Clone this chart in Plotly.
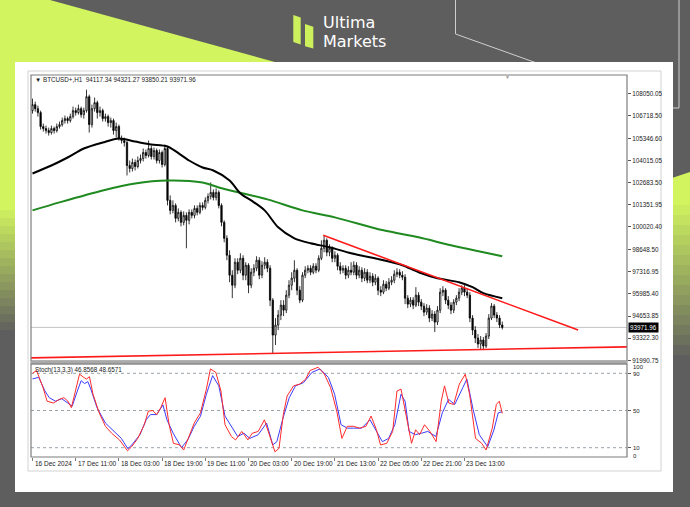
import plotly.graph_objects as go

# ---------------- DATA ----------------
bar_index = list(range(175))

open_ = [107026,107387,107146,106906,106065,105945,105825,105705,105945,105825,
         106065,106185,106426,106546,106426,106666,107026,106906,107146,106786,
         107026,107867,106185,107146,107507,106906,107026,106546,106666,106305,
         106426,105825,106065,105344,105224,105104,103722,103542,103903,103662,
         104023,104143,104503,104323,104744,104263,104624,104023,104503,103783,
         104744,101620,101019,101320,100539,100899,100298,100719,100419,100899,
         100719,101139,100899,101320,101199,101620,101860,102101,101800,102101,
         101320,100298,99337,98316,97115,96514,97896,97415,98136,97115,
         97716,96514,97295,97536,98016,97115,97716,97896,97536,95613,
         93510,94111,94712,95313,95012,95913,96514,96935,97415,96214,
         95613,97115,97415,97536,97295,97656,97415,98136,98737,99217,
         98496,98737,98136,98316,97656,97415,97536,97115,97415,97295,
         97716,97115,97415,96935,97295,96814,97055,96694,96935,96214,
         96094,96574,96334,96694,96814,97175,97295,97115,96995,95733,
         95373,95613,95313,95913,95493,95253,94892,95132,94532,94772,
         94291,95012,96094,96214,95613,95313,95012,95493,95733,96094,
         96334,96094,95913,94532,93811,93330,92970,93210,92850,93450,
         94532,95253,94712,94532,94117.34]

close = [107387,107146,106906,106065,105945,105825,105705,105945,105825,106065,
         106185,106426,106546,106426,106666,107026,106906,107146,106786,107026,
         107867,106185,107146,107507,106906,107026,106546,106666,106305,106426,
         105825,106065,105344,105224,105104,103722,103542,103903,103662,104023,
         104143,104503,104323,104744,104263,104624,104023,104503,103783,104744,
         101620,101019,101320,100539,100899,100298,100719,100419,100899,100719,
         101139,100899,101320,101199,101620,101860,102101,101800,102101,101320,
         100298,99337,98316,97115,96514,97896,97415,98136,97115,97716,
         96514,97295,97536,98016,97115,97716,97896,97536,95613,93510,
         94111,94712,95313,95012,95913,96514,96935,97415,96214,95613,
         97115,97415,97536,97295,97656,97415,98136,98737,99217,98496,
         98737,98136,98316,97656,97415,97536,97115,97415,97295,97716,
         97115,97415,96935,97295,96814,97055,96694,96935,96214,96094,
         96574,96334,96694,96814,97175,97295,97115,96995,95733,95373,
         95613,95313,95913,95493,95253,94892,95132,94532,94772,94291,
         95012,96094,96214,95613,95313,95012,95493,95733,96094,96334,
         96094,95913,94532,93811,93330,92970,93210,92850,93450,94532,
         95253,94712,94532,94117.34,93971.96]

high = [107747,107567,107327,107026,106245,106125,106005,106125,106065,106245,
        106366,106606,106726,106666,106846,107267,107207,107387,107267,107207,
        108288,107987,107387,107807,107627,107267,107146,106846,106786,106606,
        106546,106305,106185,105525,105404,105224,104023,104143,104083,104263,
        104383,104744,104684,105224,104924,104804,104744,104684,104624,104984,
        104864,101920,101620,101440,101139,101019,100959,100899,101079,101079,
        101320,101320,101500,101500,101800,102040,102701,102281,102341,102221,
        101440,100419,99518,98617,97415,98136,98136,98436,98316,97896,
        97836,97536,97776,98256,98196,97956,98196,98076,97716,95733,
        94532,95012,95613,95613,96214,96814,97295,98016,97536,96454,
        97295,97656,97716,97716,97836,97836,98316,99217,99518,99337,
        98977,98857,98556,98436,97896,97716,97716,97656,97896,97956,
        97896,97656,97595,97536,97475,97295,97235,97175,97055,96454,
        96814,96754,96935,97055,97415,97536,97475,97355,97175,95913,
        95793,95793,96394,96094,95673,95433,95373,95313,95012,94952,
        95253,96334,96454,96334,95853,95493,95673,95913,96334,96514,
        96514,96334,96094,94712,94051,93571,93450,93390,93631,94772,
        95433,95373,94892,94712,94321.27]

low = [106846,106966,106666,105885,105765,105645,105525,105585,105645,105705,
       105945,106065,106245,106245,106305,106546,106726,106786,106606,106546,
       106906,105705,106005,106966,106546,106666,106366,106366,106065,106005,
       105585,105404,105224,105044,104864,103122,103302,103362,103422,103542,
       103843,103963,104143,104203,104083,104083,103843,103843,103602,103662,
       101320,100779,100839,100298,100359,100058,100118,98737,100178,100539,
       100539,100719,100779,101019,101079,101440,101680,101620,101620,101139,
       100058,99097,98016,96694,95733,96334,97175,97235,96814,96814,
       96034,96334,97055,97355,96874,96935,97475,97295,95253,92429,
       92910,93811,94412,94652,94832,95733,96214,96694,95913,95433,
       95493,96935,97235,97115,97175,97235,97295,98016,98496,98256,
       98256,97896,97896,97415,97175,97235,96874,96935,97115,97115,
       96874,96935,96694,96754,96634,96634,96454,96514,95913,95853,
       95973,96154,96214,96514,96634,96995,96935,96814,95373,95132,
       95193,95072,95193,95253,95012,94652,94712,94291,94352,93691,
       94111,94832,95853,95373,95072,94772,94832,95313,95553,95913,
       95853,95733,94291,93510,93030,92730,92650,92670,92730,93270,
       94412,94532,94291,93931,93850.21]

ma_black_x = [0, 7, 13, 19, 26, 32, 38, 44, 50, 58, 63, 67, 73, 77, 81, 86, 91, 97,
              103, 110, 118, 130, 137, 143, 150, 158, 163, 167, 174]
ma_black = [103242, 103722, 104203, 104744, 105104, 105344, 105164, 104984, 104864,
            104023, 103602, 103422, 102821, 102040, 101620, 101019, 99998, 99337,
            99037, 98797, 98436, 98016, 97716, 97295, 96935, 96694, 96394, 96034, 95733]

ma_green_x = [0, 10, 26, 38, 50, 63, 69, 87, 100, 112, 130, 143, 155, 167, 174]
ma_green = [101019, 101500, 102221, 102641, 102821, 102701, 102401, 101680, 101019,
            100599, 99818, 99397, 98917, 98496, 98256]

trend_upper_x = [107.7, 202.1]
trend_upper = [99518, 93811]
trend_lower_x = [-0.6, 220.3]
trend_lower = [92140, 92802]

last_price = 93971.96

stoch_k_x = [0, 1.5, 3.9, 5.4, 7.7, 10, 11.6, 13.1, 14.4, 16.2, 17.4, 19, 20, 21.1, 22.4,
             24.7, 27, 29.3, 32.2, 35.2, 36.7, 39, 41.4, 42.9, 44.5, 46, 47.5, 49.1, 50.6,
             52.2, 54.5, 56, 58.3, 59.9, 62.2, 64.4, 65.9, 67.9, 69.8, 71.3, 73.7, 75.2,
             77.5, 79.8, 81.4, 83.6, 85.9, 87.5, 89.8, 91.3, 92.9, 94.3, 96.7, 99, 101.2,
             102.8, 105.8, 108.1, 110.4, 112.7, 114.6, 116.6, 118.9, 121.2, 123.5, 125.4,
             127.4, 128.9, 131.2, 133.4, 135, 136.5, 138.1, 140.4, 141.9, 143.4, 145.2,
             147.2, 149.5, 151.4, 152.6, 154.2, 156, 158.1, 160.3, 161.9, 164.1, 166.4,
             168, 170.3, 171.8, 172.9, 174]
stoch_k = [90, 93, 74.7, 60, 58, 62, 63.8, 60, 53, 74.7, 89, 85.6, 83.8, 86.4, 67.5,
           47.5, 33, 25.6, 18.4, 6.7, 11, 20, 34.7, 49.3, 50, 45.6, 53, 63.8, 34.7,
           14.7, 13, 7.5, 24, 36.5, 47.5, 73, 94.7, 91, 71, 34.7, 22, 18.4,
           27.5, 18.4, 25.6, 27.5, 40, 25.6, 5.6, 9.3, 45.6, 65.6, 76.5, 78.4, 83.8,
           93, 96.5, 89, 74.7, 49.3, 20, 33, 33, 31, 33, 44,
           29.3, 13, 14.7, 27.5, 71, 73, 47.5, 14.7, 29.3, 24, 34.7,
           27.5, 16.5, 60, 76.5, 58, 56.5, 78.4, 89, 67.5, 20, 14.7,
           7.5, 31, 56.5, 60, 46.8568]

stoch_d_x = [0, 2.3, 4.6, 6.2, 8.5, 10.8, 13.1, 14.7, 16.5, 18, 19.3, 20.5, 21.6, 23.9,
             27, 30.1, 32.9, 35.3, 36.8, 39.8, 42.1, 43.7, 46, 48.3, 49.8, 52.2, 55.2,
             57.6, 59.9, 62.2, 64.4, 66.7, 69, 71.3, 73.7, 76, 78.3, 80.5, 83.6, 86.7,
             89, 90.5, 92.8, 95.1, 97.4, 100.4, 103.5, 106.5, 109.6, 111.9, 114.3, 116.6,
             118.9, 121.9, 125, 127.3, 129.6, 131.9, 134.2, 136.5, 138, 139.5, 141.8,
             144.1, 146.4, 149.4, 151.8, 154.1, 156.4, 159.4, 160.9, 163.2, 165.5, 168.6,
             170.9, 172.5, 174]
stoch_d = [84, 85.6, 71, 63.8, 60, 62.7, 58, 54.7, 70, 82, 79, 81, 73, 53,
           36.5, 27.5, 20, 9, 13, 24, 40, 45.6, 45.6, 56, 40, 25, 10,
           19, 33, 43.8, 67.5, 87.5, 76.5, 44, 33, 22, 25.6, 20, 24, 36.5,
           13, 16.5, 42, 63.8, 76.5, 80, 91, 94.7, 85.6, 67.5, 34.7, 31,
           31, 31, 40, 27.5, 16.5, 20, 34.7, 67.5, 60, 27.5, 24,
           25.6, 27.5, 22, 47.5, 62, 56.5, 74.7, 83.8, 51, 24, 11,
           29, 47.5, 48.6571]

price_ticks = [108050.05, 106718.50, 105346.60, 104015.05, 102683.50, 101351.95,
               100020.40, 98648.50, 97316.95, 95985.40, 94653.85, 93322.30, 91990.75]
price_tick_text = ["108050.05", "106718.50", "105346.60", "104015.05", "102683.50",
                   "101351.95", "100020.40", "98648.50", "97316.95", "95985.40",
                   "94653.85", "93322.30", "91990.75"]

date_tick_bars = [0, 16, 32, 48, 64, 80, 96, 112, 128, 144, 160]
date_tick_text = ["16 Dec 2024", "17 Dec 11:00", "18 Dec 03:00", "18 Dec 19:00",
                  "19 Dec 11:00", "20 Dec 03:00", "20 Dec 19:00", "21 Dec 13:00",
                  "22 Dec 05:00", "22 Dec 21:00", "23 Dec 13:00"]

stoch_levels = [10, 50, 90]
stoch_label_vals = [96.3, 89.5, 50, 10, 1.5]
stoch_label_text = ["100", "90", "50", "10", "0"]

header_text = "\u25BC BTCUSD+,H1  94117.34 94321.27 93850.21 93971.96"
stoch_text = "Stoch(13,3,3) 46.8568 48.6571"

# ---------------- LAYOUT HELPERS ----------------
W, H = 690, 507
L, R, T, B = 31, 627, 74, 457
PW, PH = R - L, B - T


def px(x):
    return (x - L) / PW


def py(y):
    return (B - y) / PH


def path(points):
    s = "M" + " L".join(f"{px(x):.5f},{py(y):.5f}" for x, y in points)
    return s + " Z"


FONT = "Liberation Sans, Arial, sans-serif"
LIME = (210, 245, 95)
GRAY = (94, 94, 94)


def mix(t):
    c = [round(LIME[i] * (1 - t) + GRAY[i] * t) for i in range(3)]
    return f"rgb({c[0]},{c[1]},{c[2]})"


fig = go.Figure()

fig.add_trace(go.Candlestick(
    x=bar_index, open=open_, high=high, low=low, close=close,
    xaxis="x", yaxis="y",
    increasing=dict(line=dict(color="#000000", width=0.8), fillcolor="#ffffff"),
    decreasing=dict(line=dict(color="#000000", width=0.8), fillcolor="#000000"),
    whiskerwidth=0, showlegend=False, hoverinfo="skip"))

fig.add_trace(go.Scatter(x=ma_green_x, y=ma_green, mode="lines", xaxis="x", yaxis="y",
                         line=dict(color="#1f8a1f", width=2, shape="spline", smoothing=0.8),
                         showlegend=False, hoverinfo="skip"))
fig.add_trace(go.Scatter(x=ma_black_x, y=ma_black, mode="lines", xaxis="x", yaxis="y",
                         line=dict(color="#000000", width=2, shape="spline", smoothing=0.8),
                         showlegend=False, hoverinfo="skip"))
fig.add_trace(go.Scatter(x=trend_upper_x, y=trend_upper, mode="lines", xaxis="x", yaxis="y",
                         line=dict(color="#ff1a1a", width=1.6), showlegend=False, hoverinfo="skip"))
fig.add_trace(go.Scatter(x=trend_lower_x, y=trend_lower, mode="lines", xaxis="x", yaxis="y",
                         line=dict(color="#ff1a1a", width=1.6), showlegend=False, hoverinfo="skip"))

fig.add_trace(go.Scatter(x=stoch_d_x, y=stoch_d, mode="lines", xaxis="x", yaxis="y2",
                         line=dict(color="#3b3bff", width=1), showlegend=False, hoverinfo="skip"))
fig.add_trace(go.Scatter(x=stoch_k_x, y=stoch_k, mode="lines", xaxis="x", yaxis="y2",
                         line=dict(color="#ff2b2b", width=1), showlegend=False, hoverinfo="skip"))

shapes = []
# background lime triangle (top-left) and left gradient strip
shapes.append(dict(type="path", xref="paper", yref="paper", layer="below",
                   path=path([(0, 0), (50, 0), (340, 80), (340, 210), (0, 210)]),
                   fillcolor=mix(0), line=dict(width=0)))
n = 16
for i in range(n):
    y0 = 210 + i * 8
    shapes.append(dict(type="rect", xref="paper", yref="paper", layer="below",
                       x0=px(0), x1=px(16), y0=py(y0), y1=py(y0 + 8.5),
                       fillcolor=mix((i + 1) / n), line=dict(width=0)))
# right lime strip with gradient
shapes.append(dict(type="path", xref="paper", yref="paper", layer="below",
                   path=path([(672, 178), (690, 172), (690, 205), (672, 205)]),
                   fillcolor=mix(0), line=dict(width=0)))
for i in range(n):
    y0 = 205 + i * 10
    shapes.append(dict(type="rect", xref="paper", yref="paper", layer="below",
                       x0=px(672), x1=px(690), y0=py(y0), y1=py(y0 + 10.5),
                       fillcolor=mix((i + 1) / n), line=dict(width=0)))
# decorative thin lines
shapes.append(dict(type="path", xref="paper", yref="paper", layer="below",
                   path="M" + " L".join(f"{px(x):.5f},{py(y):.5f}" for x, y in [(455.5, -2), (455.5, 34), (545, 66)]),
                   line=dict(color="#cfcfcf", width=1)))
shapes.append(dict(type="path", xref="paper", yref="paper", layer="below",
                   path="M" + " L".join(f"{px(x):.5f},{py(y):.5f}" for x, y in [(679, -2), (679, 108), (670, 108)]),
                   line=dict(color="#cfcfcf", width=1)))
# white card
shapes.append(dict(type="rect", xref="paper", yref="paper", layer="below",
                   x0=px(15), x1=px(673), y0=py(492), y1=py(62),
                   fillcolor="#ffffff", line=dict(width=0)))
# MT4 outer frame
shapes.append(dict(type="rect", xref="paper", yref="paper", layer="below",
                   x0=px(28), x1=px(661), y0=py(471), y1=py(71),
                   fillcolor="rgba(0,0,0,0)", line=dict(color="#d2d2d2", width=1)))
# panel borders
shapes.append(dict(type="rect", xref="paper", yref="paper", layer="above",
                   x0=px(31), x1=px(627), y0=py(361), y1=py(75),
                   fillcolor="rgba(0,0,0,0)", line=dict(color="#7d7d7d", width=1.2)))
shapes.append(dict(type="rect", xref="paper", yref="paper", layer="above",
                   x0=px(30.5), x1=px(627.5), y0=py(364.5), y1=py(360.5),
                   fillcolor="#a9a9a9", line=dict(width=0)))
shapes.append(dict(type="rect", xref="paper", yref="paper", layer="above",
                   x0=px(31), x1=px(627), y0=py(457), y1=py(364),
                   fillcolor="rgba(0,0,0,0)", line=dict(color="#7d7d7d", width=1.2)))
# current price line
shapes.append(dict(type="line", xref="paper", yref="y", layer="below",
                   x0=0, x1=1, y0=last_price, y1=last_price,
                   line=dict(color="#c4c4c4", width=1)))
# stochastic levels
for lv in stoch_levels:
    shapes.append(dict(type="line", xref="paper", yref="y2", layer="below",
                       x0=0, x1=1, y0=lv, y1=lv,
                       line=dict(color="#9aa2aa", width=1, dash="dot")))

ann = []
# logo text
LOGO_FONT = dict(family="DejaVu Sans, sans-serif", size=16, color="#ffffff")
ann.append(dict(xref="paper", yref="paper", x=px(321), y=py(22.5), text="Ultima",
                showarrow=False, xanchor="left", yanchor="middle", font=LOGO_FONT))
ann.append(dict(xref="paper", yref="paper", x=px(321), y=py(41.5), text="Markets",
                showarrow=False, xanchor="left", yanchor="middle", font=LOGO_FONT))
# header and indicator names
ann.append(dict(xref="paper", yref="paper", x=px(33), y=py(80), text=header_text,
                showarrow=False, xanchor="left", yanchor="middle",
                font=dict(family=FONT, size=6.3, color="#1a1a1a")))
ann.append(dict(xref="paper", yref="paper", x=px(33), y=py(370), text=stoch_text,
                showarrow=False, xanchor="left", yanchor="middle",
                font=dict(family=FONT, size=6.3, color="#1a1a1a")))
ann.append(dict(xref="paper", yref="paper", x=px(507), y=py(77), text="\u25BC",
                showarrow=False, xanchor="center", yanchor="middle",
                font=dict(family=FONT, size=5, color="#999999")))
# current price box
ann.append(dict(xref="paper", yref="y", x=px(628), y=last_price, text="93971.96",
                showarrow=False, xanchor="left", yanchor="middle", bgcolor="#000000",
                borderpad=1, font=dict(family=FONT, size=6.3, color="#ffffff")))
# stochastic axis labels
for v, t in zip(stoch_label_vals, stoch_label_text):
    ann.append(dict(xref="paper", yref="y2", x=px(631), y=v, text=t,
                    showarrow=False, xanchor="left", yanchor="middle", height=6,
                    font=dict(family=FONT, size=6, color="#222222")))
# date labels
for b, t in zip(date_tick_bars, date_tick_text):
    ann.append(dict(xref="x", yref="paper", x=b, y=py(463.5), text=t,
                    showarrow=False, xanchor="left", yanchor="middle",
                    font=dict(family=FONT, size=6.5, color="#222222")))

logo_bars = [
    [(293.3, 15), (300.7, 17.5), (300.7, 44.5), (293.3, 42)],
    [(305, 24), (313.3, 26.7), (313.3, 48.5), (305, 46.3)],
]
for pts in logo_bars:
    shapes.append(dict(type="path", xref="paper", yref="paper", layer="above",
                       path=path(pts), fillcolor="#cdf15c", line=dict(width=0)))

fig.update_layout(
    width=W, height=H,
    margin=dict(l=L, r=W - R, t=T, b=H - B, pad=0),
    paper_bgcolor="rgb(94,94,94)", plot_bgcolor="rgba(0,0,0,0)",
    showlegend=False,
    xaxis=dict(domain=[0, 1], range=[-0.56, 220.2], anchor="y2", showgrid=False,
               zeroline=False, showticklabels=False, tickvals=date_tick_bars,
               ticks="outside", ticklen=3, tickcolor="#7d7d7d", showline=False,
               rangeslider=dict(visible=False), fixedrange=True),
    yaxis=dict(domain=[py(361), 1 - (75 - T) / PH], range=[91949, 109171], side="right",
               anchor="x", tickvals=price_ticks, ticktext=price_tick_text,
               ticks="outside", ticklen=3, tickcolor="#555555",
               tickfont=dict(family=FONT, size=6.3, color="#222222"),
               showgrid=False, zeroline=False, showline=False, fixedrange=True),
    yaxis2=dict(domain=[0, py(364)], range=[0, 100], side="right", anchor="x",
                tickvals=stoch_levels, ticks="outside", ticklen=3, tickcolor="#555555",
                showticklabels=False, showgrid=False, zeroline=False, showline=False,
                fixedrange=True),
    shapes=shapes, annotations=ann,
)

fig.write_html("out.html", config={"displayModeBar": False},
               post_script="document.body.style.margin='0';document.body.style.overflow='hidden';")
